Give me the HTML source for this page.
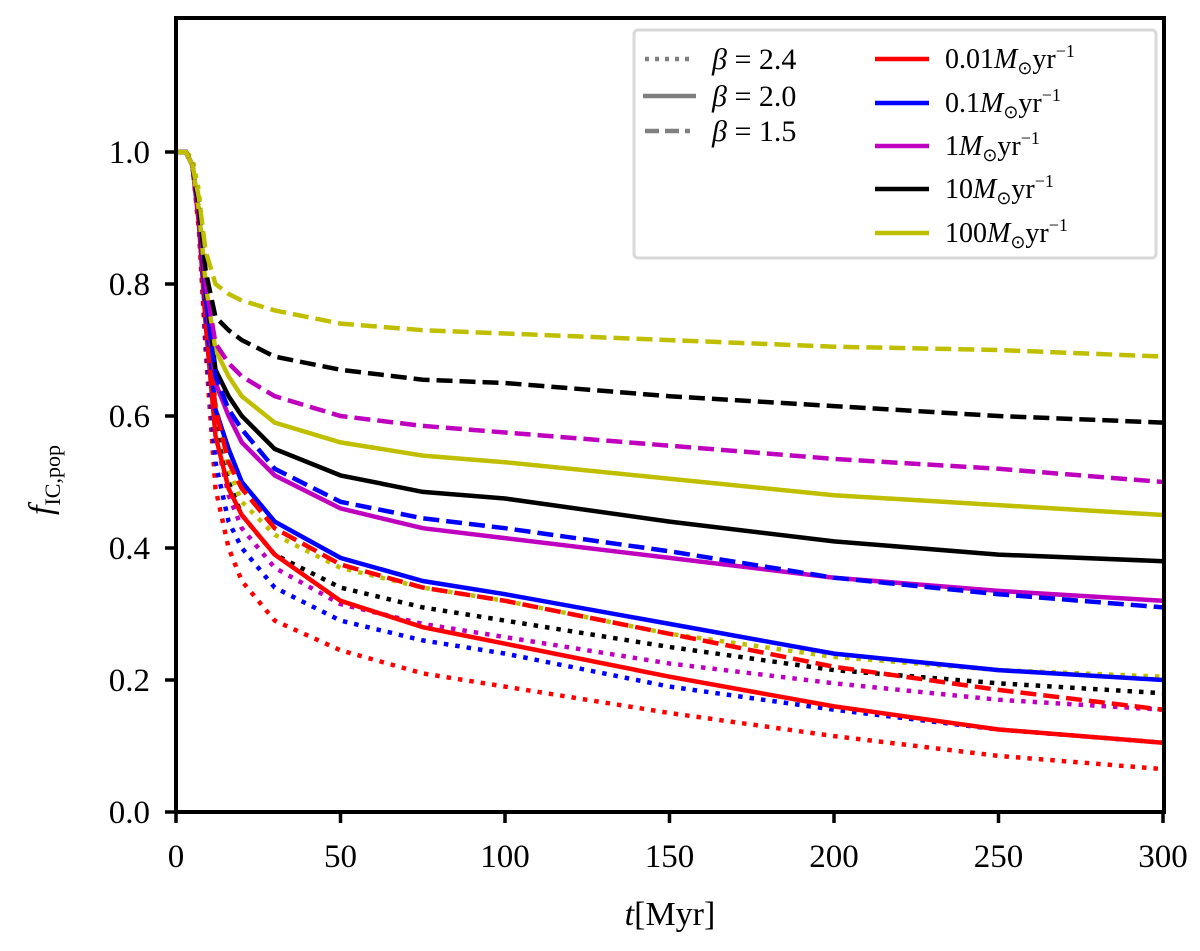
<!DOCTYPE html>
<html><head><meta charset="utf-8"><style>
body{margin:0;background:#fff;}
svg text{font-family:"Liberation Serif",serif;fill:#000;}
</style></head><body>
<svg id="chart" width="1200" height="946" xmlns="http://www.w3.org/2000/svg">
<g id="lines"></g>
<rect x="176" y="18" width="988" height="794" fill="none" stroke="#000" stroke-width="4"/>
<g id="ticks"></g>
<text x="670" y="925" font-size="34" text-anchor="middle"><tspan font-style="italic">t</tspan>[Myr]</text>
<text transform="translate(52,480) rotate(-90)" font-size="34" text-anchor="middle"><tspan font-style="italic">f</tspan><tspan font-size="22" dy="8">IC,pop</tspan></text>
<g>
<rect x="634" y="30" width="522" height="228" rx="4" fill="#fff" stroke="#d9d9d9" stroke-width="3"/>
<line x1="645" y1="59" x2="690" y2="59" stroke="#808080" stroke-width="4.5" stroke-dasharray="4,6"/>
<line x1="643" y1="96" x2="696" y2="96" stroke="#808080" stroke-width="4.5"/>
<line x1="645" y1="131" x2="690" y2="131" stroke="#808080" stroke-width="4.5" stroke-dasharray="14,6"/>
<text x="712" y="69" font-size="30"><tspan font-style="italic">β</tspan> = 2.4</text>
<text x="712" y="106" font-size="30"><tspan font-style="italic">β</tspan> = 2.0</text>
<text x="712" y="141" font-size="30"><tspan font-style="italic">β</tspan> = 1.5</text>
<line x1="875" y1="59" x2="929" y2="59" stroke="#ff0000" stroke-width="4.5"/>
<line x1="875" y1="103" x2="929" y2="103" stroke="#0000ff" stroke-width="4.5"/>
<line x1="875" y1="146" x2="929" y2="146" stroke="#bf00bf" stroke-width="4.5"/>
<line x1="875" y1="189" x2="929" y2="189" stroke="#000" stroke-width="4.5"/>
<line x1="875" y1="233" x2="929" y2="233" stroke="#bfbf00" stroke-width="4.5"/>
<text x="945" y="68" font-size="28">0.01<tspan font-style="italic">M</tspan><tspan font-size="18" dy="6">⊙</tspan><tspan dy="-6">yr</tspan><tspan font-size="18" dy="-11">−1</tspan></text>
<text x="945" y="112" font-size="28">0.1<tspan font-style="italic">M</tspan><tspan font-size="18" dy="6">⊙</tspan><tspan dy="-6">yr</tspan><tspan font-size="18" dy="-11">−1</tspan></text>
<text x="945" y="155" font-size="28">1<tspan font-style="italic">M</tspan><tspan font-size="18" dy="6">⊙</tspan><tspan dy="-6">yr</tspan><tspan font-size="18" dy="-11">−1</tspan></text>
<text x="945" y="198" font-size="28">10<tspan font-style="italic">M</tspan><tspan font-size="18" dy="6">⊙</tspan><tspan dy="-6">yr</tspan><tspan font-size="18" dy="-11">−1</tspan></text>
<text x="945" y="242" font-size="28">100<tspan font-style="italic">M</tspan><tspan font-size="18" dy="6">⊙</tspan><tspan dy="-6">yr</tspan><tspan font-size="18" dy="-11">−1</tspan></text>
</g>
</svg>
<script>
const times=[0,3,5,7,9,12,16,20,30,50,75,100,150,200,250,300];
const xTicks=[0,50,100,150,200,250,300];
const yTicks=[0.0,0.2,0.4,0.6,0.8,1.0];
const yTickLabels=["0.0","0.2","0.4","0.6","0.8","1.0"];
const rD=[1,1,.98,.88,.70,.49,.40,.35,.29,.245,.21,.19,.15,.115,.085,.065];
const bD=[1,1,.98,.89,.72,.53,.44,.40,.34,.29,.26,.24,.19,.155,.125,.105];
const mD=[1,1,.98,.90,.74,.57,.48,.43,.37,.315,.285,.265,.225,.195,.17,.155];
const kD=[1,1,.98,.91,.76,.59,.50,.45,.39,.34,.31,.29,.25,.215,.195,.18];
const yD=[1,1,.99,.94,.82,.62,.52,.47,.42,.37,.34,.32,.27,.235,.215,.205];
const rS=[1,1,.98,.89,.74,.57,.49,.45,.39,.32,.28,.255,.205,.16,.125,.105];
const bS=[1,1,.98,.90,.76,.61,.55,.50,.44,.385,.35,.33,.285,.24,.215,.20];
const mS=[1,1,.98,.90,.78,.65,.60,.56,.51,.46,.43,.415,.385,.355,.335,.32];
const kS=[1,1,.98,.91,.79,.67,.63,.60,.55,.51,.485,.475,.44,.41,.39,.38];
const yS=[1,1,.98,.91,.80,.70,.66,.63,.59,.56,.54,.53,.505,.48,.465,.45];
const rH=[1,1,.98,.90,.76,.61,.53,.49,.43,.375,.34,.32,.27,.22,.185,.155];
const bH=[1,1,.98,.91,.78,.66,.61,.58,.52,.47,.445,.43,.395,.355,.33,.31];
const mH=[1,1,.98,.92,.80,.71,.68,.66,.63,.60,.585,.575,.555,.535,.52,.50];
const kH=[1,1,.98,.92,.82,.75,.73,.715,.69,.67,.655,.65,.63,.615,.60,.59];
const yH=[1,1,.98,.93,.85,.80,.785,.775,.76,.74,.73,.725,.715,.705,.70,.69];
const X=t=>176+t*(1163-176)/300;
const Y=v=>812-v*660;
const NS="http://www.w3.org/2000/svg";
const g=document.getElementById('lines');
const series=[
["dotted-0.01",rD,"#ff0000","dot"],["dotted-0.1",bD,"#0000ff","dot"],["dotted-1",mD,"#bf00bf","dot"],["dotted-10",kD,"#000","dot"],["dotted-100",yD,"#bfbf00","dot"],
["solid-0.01",rS,"#ff0000",""],["solid-0.1",bS,"#0000ff",""],["solid-1",mS,"#bf00bf",""],["solid-10",kS,"#000",""],["solid-100",yS,"#bfbf00",""],
["dashed-0.01",rH,"#ff0000","dash"],["dashed-0.1",bH,"#0000ff","dash"],["dashed-1",mH,"#bf00bf","dash"],["dashed-10",kH,"#000","dash"],["dashed-100",yH,"#bfbf00","dash"]];
series.forEach(s=>{
 const p=document.createElementNS(NS,'path');
 
 
 p.setAttribute('d',s[1].map((v,i)=>(i?'L':'M')+X(times[i]).toFixed(1)+','+Y(v).toFixed(1)).join(''));
 p.setAttribute('fill','none');p.setAttribute('stroke',s[2]);p.setAttribute('stroke-width','4.5');
 if(s[3]==='dot')p.setAttribute('stroke-dasharray','4.5,7');
 if(s[3]==='dash')p.setAttribute('stroke-dasharray','16,7');
 g.appendChild(p);
});
const tg=document.getElementById('ticks');
xTicks.forEach(t=>{
 const l=document.createElementNS(NS,'line');
 
 
 l.setAttribute('x1',X(t));l.setAttribute('x2',X(t));l.setAttribute('y1',812);l.setAttribute('y2',823);l.setAttribute('stroke','#000');l.setAttribute('stroke-width','3.5');
 tg.appendChild(l);
 const tx=document.createElementNS(NS,'text');
 
 
 tx.setAttribute('x',X(t));tx.setAttribute('y',867);tx.setAttribute('font-size','33');tx.setAttribute('text-anchor','middle');
 tx.textContent=t;tg.appendChild(tx);
});
yTicks.forEach((v,i)=>{
 const l=document.createElementNS(NS,'line');
 
 
 l.setAttribute('x1',165);l.setAttribute('x2',176);l.setAttribute('y1',Y(v));l.setAttribute('y2',Y(v));l.setAttribute('stroke','#000');l.setAttribute('stroke-width','3.5');
 tg.appendChild(l);
 const tx=document.createElementNS(NS,'text');
 
 
 tx.setAttribute('x',150);tx.setAttribute('y',Y(v)+11);tx.setAttribute('font-size','33');tx.setAttribute('text-anchor','end');
 tx.textContent=yTickLabels[i];tg.appendChild(tx);
});
</script>
</body></html>
